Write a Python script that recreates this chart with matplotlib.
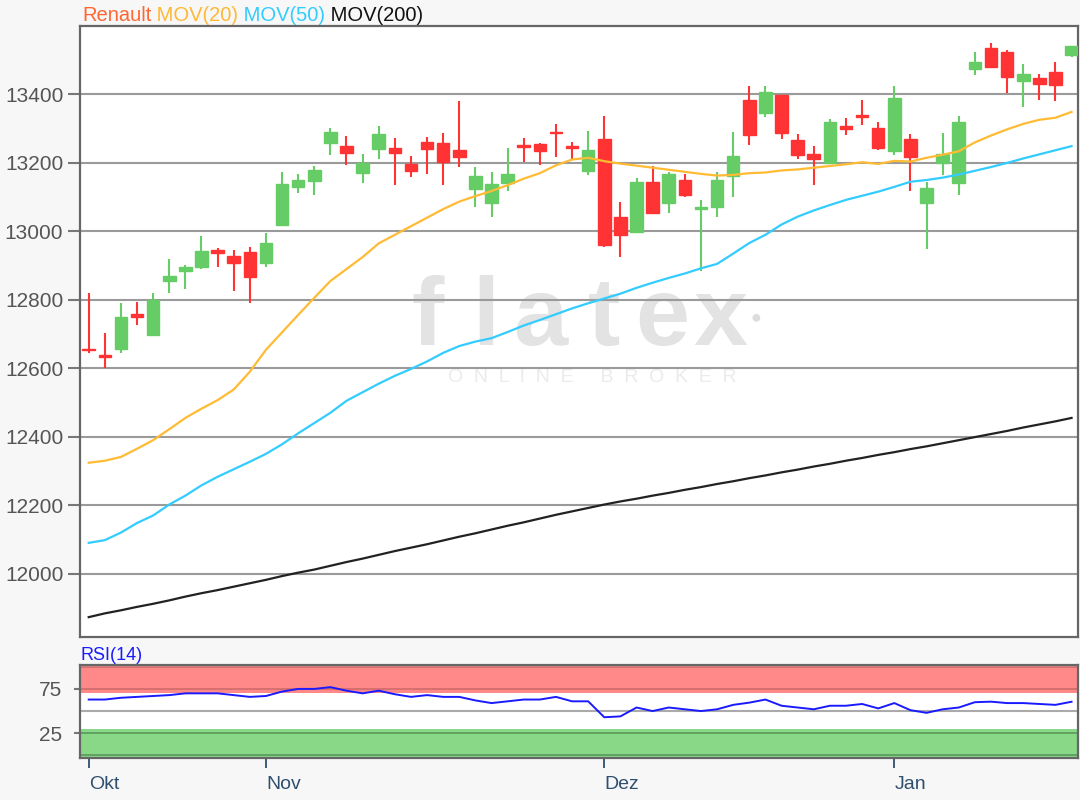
import numpy as np
import matplotlib
matplotlib.use("Agg")
import matplotlib.pyplot as plt

plt.rcParams['font.family'] = ['Liberation Sans', 'DejaVu Sans']

# daily candles
opens = [12656, 12638, 12656, 12760, 12698, 12855, 12885, 12895, 12947, 12929,
         12941, 12909, 13019, 13130, 13148, 13259, 13249, 13171, 13242, 13244,
         13197, 13262, 13257, 13239, 13124, 13084, 13140, 13251, 13255, 13291,
         13249, 13176, 13269, 13041, 12997, 13145, 13084, 13150, 13066, 13072,
         13163, 13383, 13346, 13397, 13267, 13226, 13201, 13309, 13339, 13303,
         13236, 13269, 13084, 13201, 13140, 13474, 13536, 13525, 13439, 13449,
         13466, 13515]
highs = [12819, 12702, 12790, 12795, 12819, 12918, 12902, 12987, 12950, 12946,
         12953, 12994, 13174, 13167, 13192, 13303, 13278, 13226, 13309, 13274,
         13220, 13276, 13286, 13381, 13189, 13174, 13245, 13274, 13259, 13315,
         13262, 13293, 13338, 13087, 13155, 13192, 13174, 13169, 13092, 13174,
         13291, 13425, 13424, 13397, 13284, 13250, 13327, 13331, 13385, 13320,
         13425, 13284, 13145, 13286, 13338, 13525, 13549, 13531, 13490, 13461,
         13495, 13541]
lows = [12645, 12600, 12644, 12727, 12698, 12819, 12831, 12889, 12895, 12826,
        12790, 12897, 13019, 13111, 13106, 13223, 13194, 13140, 13211, 13135,
        13160, 13169, 13135, 13189, 13072, 13041, 13118, 13203, 13194, 13216,
        13210, 13165, 12955, 12924, 12997, 13053, 13053, 13099, 12885, 13041,
        13101, 13252, 13335, 13270, 13211, 13135, 13201, 13281, 13310, 13239,
        13223, 13118, 12948, 13165, 13106, 13456, 13481, 13403, 13362, 13385,
        13381, 13508]
closes = [12652, 12634, 12749, 12750, 12800, 12871, 12895, 12943, 12938, 12909,
          12868, 12965, 13138, 13150, 13179, 13291, 13230, 13199, 13284, 13230,
          13177, 13240, 13203, 13218, 13163, 13138, 13167, 13247, 13236, 13287,
          13245, 13239, 12960, 12989, 13145, 13053, 13169, 13106, 13072, 13150,
          13220, 13281, 13407, 13288, 13223, 13210, 13320, 13299, 13335, 13245,
          13390, 13218, 13128, 13226, 13320, 13495, 13481, 13452, 13461, 13432,
          13427, 13541]

ma20 = [12324, 12330, 12341, 12365, 12390, 12422, 12455, 12482, 12507, 12538,
        12590, 12654, 12705, 12756, 12806, 12855, 12890, 12925, 12965, 12990,
        13015, 13040, 13065, 13087, 13103, 13118, 13135, 13154, 13170, 13193,
        13210, 13215, 13205, 13198, 13192, 13186, 13180, 13174, 13168, 13163,
        13165, 13170, 13172, 13178, 13181, 13186, 13191, 13196, 13202, 13197,
        13206, 13204, 13215, 13224, 13234, 13260, 13280, 13298, 13314, 13326,
        13332, 13349]
ma50 = [12090, 12098, 12120, 12148, 12170, 12202, 12228, 12258, 12283, 12305,
        12327, 12350, 12378, 12410, 12440, 12470, 12505, 12530, 12555, 12578,
        12598, 12620, 12645, 12665, 12678, 12688, 12706, 12725, 12741, 12758,
        12775, 12790, 12804, 12818, 12835, 12850, 12864, 12877, 12892, 12905,
        12935, 12966, 12990, 13020, 13043, 13061, 13077, 13092, 13104, 13116,
        13130, 13145, 13150, 13157, 13166, 13177, 13188, 13200, 13213, 13225,
        13237, 13249]
ma200 = [11873, 11884, 11893, 11903, 11912, 11922, 11933, 11943, 11952, 11962,
         11972, 11982, 11993, 12003, 12012, 12023, 12034, 12044, 12055, 12066,
         12076, 12086, 12097, 12108, 12118, 12129, 12140, 12150, 12161, 12172,
         12182, 12192, 12202, 12211, 12219, 12228, 12236, 12245, 12253, 12262,
         12270, 12279, 12287, 12296, 12304, 12313, 12321, 12330, 12338, 12347,
         12355, 12364, 12372, 12381, 12390, 12399, 12408, 12417, 12427, 12436,
         12445, 12455]
rsi = [63, 63, 65, 66, 67, 68, 70, 70, 70, 68,
       66, 67, 72, 75, 75, 77, 73, 70, 73, 69,
       66, 68, 66, 66, 62, 59, 61, 63, 63, 66,
       61, 61, 43, 44, 54, 50, 54, 52, 50, 52,
       57, 59.5, 63, 56, 54, 52, 56, 56, 58, 53,
       59, 51, 48, 52, 54, 60, 60.6, 59, 59, 58,
       57, 60.5]

month_labels = ['Okt', 'Nov', 'Dez', 'Jan']
month_pos = [0, 11, 32, 50]
price_ticks = [12000, 12200, 12400, 12600, 12800, 13000, 13200, 13400]

W, H = 1080, 800
fig = plt.figure(figsize=(W / 100, H / 100), dpi=100, facecolor='#f7f7f7')
ax = fig.add_axes([80 / W, 1 - 637 / H, 998 / W, 611 / H])
ax_r = fig.add_axes([80 / W, 1 - 758 / H, 998 / W, 93 / H])


def px(x, y):
    return x / W, 1 - y / H


idx = np.arange(len(opens))
o = np.array(opens)
c = np.array(closes)
up = c >= o
cols = np.where(up, '#66cc66', '#ff3333')

# watermark
for ch, xx in zip(['f', 'l', 'a', 't', 'e', 'x'], [428, 486, 540, 604, 662, 720]):
    ax.text(*px(xx, 345), ch, transform=fig.transFigure, ha='center', va='baseline',
            fontsize=70, fontweight='bold', color='#e3e3e3', zorder=0.3)
ax.text(*px(756, 318), '●', transform=fig.transFigure, ha='center', va='center',
        fontsize=13, color='#dcdcdc', zorder=0.3)
ax.text(*px(592, 378), 'O  N  L  I  N  E     B  R  O  K  E  R', transform=fig.transFigure,
        ha='center', va='center', fontsize=14, color='#ebebeb', zorder=0.3)

# candles
ax.vlines(idx, lows, highs, colors=cols, linewidth=1.5, zorder=3)
ax.bar(idx, np.abs(c - o), bottom=np.minimum(o, c), width=0.78, color=cols,
       edgecolor=cols, linewidth=1.0, zorder=4)

ax.plot(idx, ma20, color='#ffbb33', lw=1.6, zorder=5)
ax.plot(idx, ma50, color='#33ccff', lw=1.6, zorder=5)
ax.plot(idx, ma200, color='#222222', lw=1.6, zorder=5)

ax.set_xlim(-0.54, 61.4)
ax.set_ylim(11815, 13600)
ax.set_yticks(price_ticks)
ax.set_yticklabels([str(t) for t in price_ticks])
ax.set_xticks([])
ax.grid(axis='y', color='#9a9a9a', lw=1.5, zorder=1)
ax.set_axisbelow(True)
ax.tick_params(axis='y', length=9, width=1.5, color='#777777', pad=3,
               labelsize=15, labelcolor='#555555')
for s in ax.spines.values():
    s.set_color('#666666')
    s.set_linewidth(1.6)

# title, one colour per part
prev = fig.text(82 / W, 1 - 21 / H, 'Renault', color='#ff6633', fontsize=14.5, va='baseline')
for txt, col in [(' MOV(20)', '#ffb833'), (' MOV(50)', '#33ccff'), (' MOV(200)', '#111111')]:
    prev = ax.annotate(txt, xy=(1, 0), xycoords=prev, va='bottom', ha='left',
                       fontsize=14.5, color=col, annotation_clip=False)

# RSI panel
ax_r.axhspan(70, 100, color='#ff8888', zorder=0.5, lw=0)
ax_r.axhspan(-3, 30, color='#88d888', zorder=0.5, lw=0)
for v, col in [(100, '#d06a6a'), (75, '#d06a6a'), (25, '#5a9a5a'), (0, '#5a9a5a')]:
    ax_r.axhline(v, color=col, lw=1.2, zorder=1)
ax_r.axhline(50, color='#aaaaaa', lw=1.5, zorder=1)
ax_r.plot(idx, rsi, color='#1a1aff', lw=1.4, zorder=3)
ax_r.set_xlim(-0.54, 61.4)
ax_r.set_ylim(-3, 102)
ax_r.set_yticks([25, 75])
ax_r.set_yticklabels(['25', '75'])
ax_r.tick_params(axis='y', length=4, width=1.5, color='#777777', pad=9,
                 labelsize=15, labelcolor='#555555')
ax_r.set_xticks(month_pos)
ax_r.set_xticklabels(month_labels, ha='left')
ax_r.tick_params(axis='x', length=7, width=1.3, color='#2f4f6f', pad=6,
                 labelsize=14, labelcolor='#2f4f6f')
for s in ax_r.spines.values():
    s.set_color('#666666')
    s.set_linewidth(1.6)
fig.text(80 / W, 1 - 655 / H, 'RSI(14)', color='#1a1aff', fontsize=13, va='center')

plt.savefig('out.png', dpi=100, facecolor=fig.get_facecolor())
